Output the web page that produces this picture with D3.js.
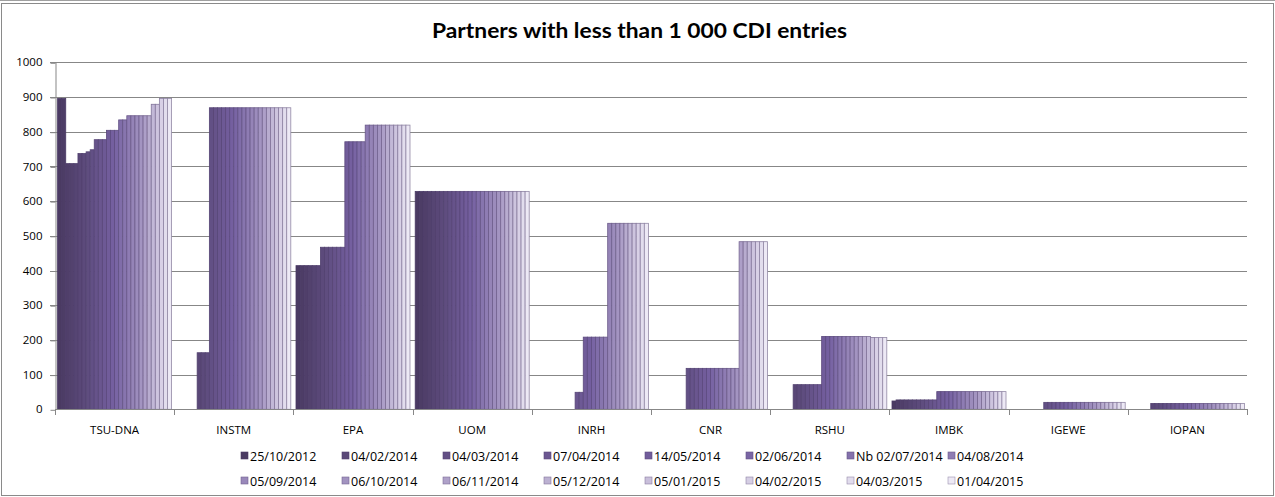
<!DOCTYPE html>
<html>
<head>
<meta charset="utf-8">
<script src="https://cdn.jsdelivr.net/npm/d3@7"></script>
<style>
  html, body { margin: 0; padding: 0; background: #fff; }
  svg { display: block; }
</style>
</head>
<body>
<svg id="chart" width="1275" height="497"></svg>
<script>
// ---------- data ----------
const title = "Partners with less than 1 000 CDI entries";
const categories = ["TSU-DNA", "INSTM", "EPA", "UOM", "INRH", "CNR", "RSHU", "IMBK", "IGEWE", "IOPAN"];
const legendLabels = ["25/10/2012", "04/02/2014", "04/03/2014", "07/04/2014", "14/05/2014", "02/06/2014", "Nb 02/07/2014", "04/08/2014",
                      "05/09/2014", "06/10/2014", "06/11/2014", "05/12/2014", "05/01/2015", "04/02/2015", "04/03/2015", "01/04/2015"];
const yTicks = [0, 100, 200, 300, 400, 500, 600, 700, 800, 900, 1000];

// one value per column (28 columns per partner), null = no bar
const tsuDna = [896, 896, 708, 708, 708, 737, 737, 742, 748, 777, 777, 777, 804, 804, 804, 834, 834, 846, 846, 846, 846, 846, 846, 879, 879, 896, 896, 896];
const instm  = [null, null, null, null, null, 163, 163, 163, 869, 869, 869, 869, 869, 869, 869, 869, 869, 869, 869, 869, 869, 869, 869, 869, 869, 869, 869, 869];
const epa    = [414, 414, 414, 414, 414, 414, 467, 467, 467, 467, 467, 467, 771, 771, 771, 771, 771, 819, 819, 819, 819, 819, 819, 819, 819, 819, 819, 819];
const uom    = [628, 628, 628, 628, 628, 628, 628, 628, 628, 628, 628, 628, 628, 628, 628, 628, 628, 628, 628, 628, 628, 628, 628, 628, 628, 628, 628, 628];
const inrh   = [null, null, null, null, null, null, null, null, null, null, 49, 49, 208, 208, 208, 208, 208, 208, 536, 536, 536, 536, 536, 536, 536, 536, 536, 536];
const cnr    = [null, null, null, null, null, null, null, null, 118, 118, 118, 118, 118, 118, 118, 118, 118, 118, 118, 118, 118, 483, 483, 483, 483, 483, 483, 483];
const rshu   = [null, null, null, null, null, 71, 71, 71, 71, 71, 71, 71, 210, 210, 210, 210, 210, 210, 210, 210, 210, 210, 210, 210, 207, 207, 207, 207];
const imbk   = [24, 27, 27, 27, 27, 27, 27, 27, 27, 27, 27, 51, 51, 51, 51, 51, 51, 51, 51, 51, 51, 51, 51, 51, 51, 51, 51, 51];
const igewe  = [null, null, null, null, null, null, null, null, 20, 20, 20, 20, 20, 20, 20, 20, 20, 20, 20, 20, 20, 20, 20, 20, 20, 20, 20, 20];
const iopan  = [null, null, null, null, null, 17, 17, 17, 17, 17, 17, 17, 17, 17, 17, 17, 17, 17, 17, 17, 17, 17, 17, 17, 17, 17, 17, 17];

const seriesByCategory = [tsuDna, instm, epa, uom, inrh, cnr, rshu, imbk, igewe, iopan];

// ---------- layout ----------
const W = 1275, H = 497;
const plot = { left: 55, right: 1247, top: 62.3, bottom: 409.3 };
const font = "'Open Sans', 'Liberation Sans', sans-serif";
const gridColor = "#878787";

const svg = d3.select("#chart");

// chart frame
svg.append("rect").attr("x", 0).attr("y", 0).attr("width", W).attr("height", H).attr("fill", "#fff");
svg.append("line").attr("x1", 0).attr("x2", W).attr("y1", 0.5).attr("y2", 0.5).attr("stroke", "#a0a0a0");
svg.append("rect").attr("x", 1.5).attr("y", 3.5).attr("width", W - 3).attr("height", H - 5)
   .attr("fill", "none").attr("stroke", "#8a8a8a").attr("stroke-width", 1);

// title
svg.append("text")
  .attr("x", 639.5).attr("y", 38)
  .attr("text-anchor", "middle")
  .attr("font-family", "Lato, 'Open Sans', sans-serif")
  .attr("font-weight", 700)
  .attr("font-size", 20)
  .attr("textLength", 415)
  .attr("lengthAdjust", "spacingAndGlyphs")
  .attr("fill", "#000")
  .text(title);

// scales
const nCols = tsuDna.length;
const x0 = d3.scaleBand().domain(categories).range([plot.left, plot.right]).padding(0);
const bw = x0.bandwidth();
const groupPad = 2.6;
const x1 = d3.scaleBand().domain(d3.range(nCols)).range([groupPad, bw - groupPad]).padding(0);
const y = d3.scaleLinear().domain([0, 1000]).range([plot.bottom, plot.top]);

const colorAt = d3.piecewise(d3.interpolateRgb, ["#4a3a62", "#5e4c7e", "#7661a2", "#a596c2", "#ede9f5"]);
const colColor = i => colorAt(i / (nCols - 1));
const legColor = i => colorAt(Math.pow(i / (legendLabels.length - 1), 0.6));

// gridlines
svg.append("g").selectAll("line").data(yTicks.filter(d => d > 0)).join("line")
  .attr("x1", plot.left - 5).attr("x2", plot.right)
  .attr("y1", d => Math.round(y(d)) + 0.5).attr("y2", d => Math.round(y(d)) + 0.5)
  .attr("stroke", gridColor).attr("stroke-width", 1);

// y axis
const yAxis = d3.axisLeft(y).tickValues(yTicks).tickFormat(d3.format("d"))
  .tickSize(5).tickSizeOuter(0).tickPadding(8);
const gy = svg.append("g").attr("transform", `translate(${plot.left + 0.5},0)`).call(yAxis);
gy.selectAll("path").attr("stroke", gridColor);
gy.selectAll("line").attr("stroke", gridColor).attr("transform", "translate(0,0.5)");
gy.selectAll("text").attr("font-family", font).attr("font-size", 11.5).attr("fill", "#000");

// bars
const groups = svg.append("g").selectAll("g").data(categories).join("g")
  .attr("transform", d => `translate(${x0(d)},0)`);

groups.selectAll("rect")
  .data((d, ci) => seriesByCategory[ci].map((v, si) => ({ v, si })).filter(e => e.v !== null && e.v > 0))
  .join("rect")
  .attr("x", e => x1(e.si))
  .attr("width", x1.bandwidth())
  .attr("y", e => y(e.v))
  .attr("height", e => y(0) - y(e.v))
  .attr("fill", e => colColor(e.si))
  .attr("stroke", e => d3.interpolateRgb(colColor(e.si), "#4a3a66")(0.55))
  .attr("stroke-width", 0.8);

// x axis
const xAxisG = svg.append("g");
xAxisG.append("line")
  .attr("x1", plot.left).attr("x2", plot.right)
  .attr("y1", Math.round(plot.bottom) + 0.5).attr("y2", Math.round(plot.bottom) + 0.5)
  .attr("stroke", gridColor);
const boundaries = categories.map(c => x0(c)).concat([plot.right]);
xAxisG.selectAll("line.tk").data(boundaries).join("line").attr("class", "tk")
  .attr("x1", d => Math.round(d) + 0.5).attr("x2", d => Math.round(d) + 0.5)
  .attr("y1", Math.round(plot.bottom)).attr("y2", Math.round(plot.bottom) + 6)
  .attr("stroke", gridColor);
xAxisG.selectAll("text").data(categories).join("text")
  .attr("x", d => x0(d) + bw / 2)
  .attr("y", 434)
  .attr("text-anchor", "middle")
  .attr("font-family", font).attr("font-size", 11.5).attr("fill", "#000")
  .text(d => d);

// legend
const legCols = 8;
const legX = d3.scaleLinear().domain([0, 1]).range([241, 342]);
const legRowY = [456, 481];
const legend = svg.append("g").selectAll("g").data(legendLabels).join("g")
  .attr("transform", (d, i) => `translate(${legX(i % legCols)},${legRowY[Math.floor(i / legCols)]})`);
legend.append("rect")
  .attr("x", 0).attr("y", -4).attr("width", 7).attr("height", 7)
  .attr("fill", (d, i) => legColor(i))
  .attr("stroke", (d, i) => d3.interpolateRgb(legColor(i), "#4a3a66")(0.5))
  .attr("stroke-width", 0.6);
legend.append("text")
  .attr("x", 9).attr("y", 4.5)
  .attr("font-family", font).attr("font-size", 12.5).attr("fill", "#000")
  .text(d => d);
</script>
</body>
</html>
